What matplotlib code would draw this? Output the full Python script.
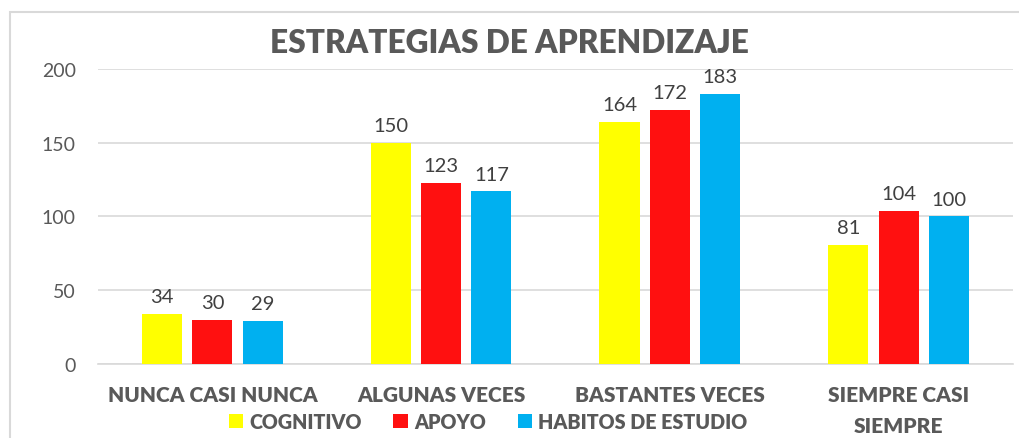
import matplotlib.pyplot as plt
import numpy as np
from matplotlib.patches import Rectangle

plt.rcParams['font.family'] = ['Lato', 'DejaVu Sans']

categorias = ['NUNCA CASI NUNCA', 'ALGUNAS VECES', 'BASTANTES VECES', 'SIEMPRE CASI\nSIEMPRE']
series = ['COGNITIVO', 'APOYO', 'HABITOS DE ESTUDIO']
cognitivo = [34, 150, 164, 81]
apoyo = [30, 123, 172, 104]
habitos = [29, 117, 183, 100]
colores = ['#FFFF00', '#FF1010', '#00B0F0']

gris = '#595959'
fig = plt.figure(figsize=(10.19, 4.39), dpi=100)
ax = fig.add_axes([0.0962, 0.1686, 0.8978, 0.672])

# marco del grafico
fig.patches.append(Rectangle((10 / 1019, -0.1), 1.1, 1 - 13 / 439 + 0.1,
                             transform=fig.transFigure, fill=False,
                             edgecolor='#D9D9D9', linewidth=1.5))

x = np.arange(len(categorias))
ancho = 0.175
desp = 0.22
for i, (vals, col) in enumerate(zip([cognitivo, apoyo, habitos], colores)):
    pos = x + (i - 1) * desp
    ax.bar(pos, vals, width=ancho, color=col, label=series[i], zorder=3)
    for p, v in zip(pos, vals):
        ax.text(p, v + 6, str(v), ha='center', va='bottom', fontsize=14.5, color='#404040')

ax.set_xlim(-0.5, 3.5)
ax.set_ylim(0, 200)
ax.set_yticks([0, 50, 100, 150, 200])
ax.yaxis.grid(True, color='#D9D9D9', linewidth=1.2, zorder=0)
for s in ['top', 'right', 'left']:
    ax.spines[s].set_visible(False)
ax.spines['bottom'].set_color('#D9D9D9')
ax.spines['bottom'].set_linewidth(1.2)
ax.tick_params(axis='y', length=0, labelsize=14, labelcolor=gris, pad=16)
ax.tick_params(axis='x', length=0, pad=15)
ax.set_xticks(x)
ax.set_xticklabels(categorias, fontsize=15, fontweight='heavy', color=gris, linespacing=1.75)
ax.set_axisbelow(True)

fig.text(0.5, 0.9, 'ESTRATEGIAS DE APRENDIZAJE', ha='center', va='center',
         fontsize=22.8, fontweight='heavy', color=gris)

leg = fig.legend(loc='center', bbox_to_anchor=(0.479, 0.038), ncol=3, frameon=False,
                 prop={'size': 14.2, 'weight': 'heavy'}, handlelength=0.75, handleheight=0.75,
                 handletextpad=0.3, columnspacing=1.6)
for t in leg.get_texts():
    t.set_color(gris)

fig.savefig('out.png', dpi=100)
